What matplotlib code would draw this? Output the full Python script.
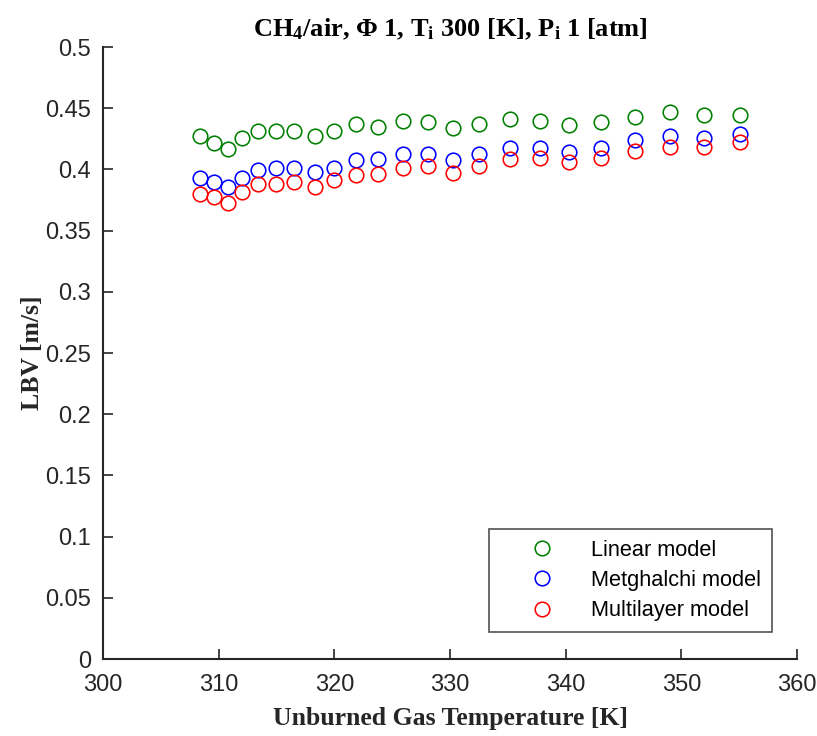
import matplotlib
matplotlib.use("Agg")
import matplotlib.pyplot as plt

# unburned gas temperature [K]
temp = [308.4, 309.6, 310.8, 312.0, 313.4, 315.0, 316.5, 318.3, 320.0, 321.9,
        323.8, 325.9, 328.1, 330.3, 332.5, 335.2, 337.8, 340.3, 343.1, 346.0,
        349.0, 352.0, 355.1]

# laminar burning velocity [m/s]
lbv_linear = [0.4273, 0.4218, 0.4169, 0.4254, 0.4316, 0.4316, 0.4316, 0.4273,
              0.4316, 0.4368, 0.4349, 0.4398, 0.4385, 0.4336, 0.4368, 0.4412,
              0.4398, 0.4365, 0.4385, 0.4431, 0.4467, 0.4444, 0.4444]
lbv_metghalchi = [0.3927, 0.3900, 0.3854, 0.3932, 0.3995, 0.4014, 0.4014, 0.3981,
                  0.4016, 0.4077, 0.4083, 0.4126, 0.4126, 0.4077, 0.4126, 0.4172,
                  0.4172, 0.4140, 0.4172, 0.4240, 0.4275, 0.4254, 0.4289]
lbv_multilayer = [0.3799, 0.3772, 0.3728, 0.3818, 0.3878, 0.3878, 0.3900, 0.3859,
                  0.3913, 0.3954, 0.3960, 0.4009, 0.4028, 0.3968, 0.4028, 0.4085,
                  0.4091, 0.4058, 0.4091, 0.4153, 0.4185, 0.4185, 0.4221]

xticks = [300, 310, 320, 330, 340, 350, 360]
yticks = [0, 0.05, 0.1, 0.15, 0.2, 0.25, 0.3, 0.35, 0.4, 0.45, 0.5]
ytick_labels = ['0', '0.05', '0.1', '0.15', '0.2', '0.25', '0.3', '0.35', '0.4', '0.45', '0.5']

plt.rcParams['mathtext.default'] = 'regular'
axis_col = '#262626'

fig = plt.figure(figsize=(8.17, 7.36), dpi=100)
ax = fig.add_axes([0.126, 0.1046, 0.8495, 0.8314])

mk = dict(linestyle='none', marker='o', markersize=10.5, markerfacecolor='none',
          markeredgewidth=1.15)
ax.plot(temp, lbv_linear, markeredgecolor='#008000', label='Linear model', **mk)
ax.plot(temp, lbv_metghalchi, markeredgecolor='#0000ff', label='Metghalchi model', **mk)
ax.plot(temp, lbv_multilayer, markeredgecolor='#ff0000', label='Multilayer model', **mk)

ax.set_xlim(300, 360)
ax.set_ylim(0, 0.5)
ax.set_xticks(xticks)
ax.set_yticks(yticks)
ax.set_yticklabels(ytick_labels)

for side in ['top', 'right']:
    ax.spines[side].set_visible(False)
for side in ['left', 'bottom']:
    ax.spines[side].set_color(axis_col)
    ax.spines[side].set_linewidth(1.5)
ax.tick_params(direction='in', length=7, width=1.2, colors=axis_col,
               labelsize=17, pad=8.5)
ax.tick_params(axis='x', pad=10.5)
for lab in ax.get_xticklabels() + ax.get_yticklabels():
    lab.set_family('Liberation Sans')

serif = dict(family='Liberation Serif', weight='bold', fontsize=18.5, color=axis_col)
ax.set_xlabel('Unburned Gas Temperature [K]', labelpad=8, **serif)
ax.set_ylabel('LBV [m/s]', labelpad=1, **serif)
ax.set_title(r'CH$_4$/air, $\Phi$ 1, T$_i$ 300 [K], P$_i$ 1 [atm]', pad=8,
             family='Liberation Serif', weight='bold', fontsize=19, color='black')

leg = ax.legend(loc='lower right', bbox_to_anchor=(0.964, 0.044), frameon=True,
                fancybox=False, edgecolor=axis_col, borderpad=0.5,
                handlelength=3.9, handletextpad=0.3, labelspacing=0.42,
                borderaxespad=0,
                prop={'family': 'Liberation Sans', 'size': 15.7})
leg.get_frame().set_linewidth(1.2)
leg.get_frame().set_facecolor('white')
for t in leg.get_texts():
    t.set_color('black')

fig.savefig('out.png', dpi=100)
